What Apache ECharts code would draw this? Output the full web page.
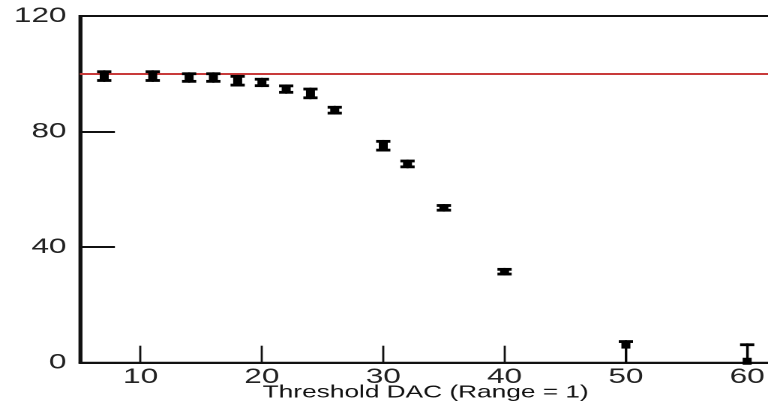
<!DOCTYPE html>
<html>
<head>
<meta charset="utf-8">
<script src="https://cdn.jsdelivr.net/npm/echarts@6/dist/echarts.min.js"></script>
<style>
html,body{margin:0;padding:0;background:#fff;overflow:hidden;width:768px;height:407px;}
#c{width:520px;height:407px;transform:scaleX(1.5);transform-origin:0 0;}
</style>
</head>
<body>
<div id="c"></div>
<script>
// Data
const thresholdDAC = [7, 11, 14, 16, 18, 20, 22, 24, 26, 30, 32, 35, 40, 50, 60];
const efficiency   = [99.2, 99.2, 98.7, 98.7, 97.6, 97.0, 94.7, 93.2, 87.4, 75.1, 68.8, 53.6, 31.5, 6.1, 0.5];
const errLow       = [2, 2, 1.8, 1.8, 2, 1.6, 1.6, 2, 1.5, 2, 1.5, 1.3, 1.3, 6.1, 0.5];
const errHigh      = [2, 2, 1.8, 1.8, 2, 1.6, 1.6, 2, 1.5, 2, 1.5, 1.3, 1.3, 1.7, 6.2];
const xTickValues  = [10, 20, 30, 40, 50, 60];
const yTickValues  = [0, 40, 80, 120];
const referenceLevel = 100;
const xAxisTitle = 'Threshold DAC (Range = 1)';

const data = thresholdDAC.map((x, i) => [x, efficiency[i], efficiency[i] - errLow[i], efficiency[i] + errHigh[i]]);

const chart = echarts.init(document.getElementById('c'), null, {renderer: 'canvas', devicePixelRatio: 2});
const font = 'Liberation Sans, Arial, sans-serif';

chart.setOption({
  animation: false,
  backgroundColor: '#ffffff',
  grid: {left: 53.3, right: 5.7, top: 16, bottom: 44.3, show: true, borderColor: '#111', borderWidth: 2,
         backgroundColor: 'transparent', containLabel: false, outerBoundsMode: 'none'},
  xAxis: {
    type: 'value', min: 5, max: 62,
    axisLine: {show: true, lineStyle: {color: '#111', width: 2}},
    axisTick: {show: true, inside: true, length: 17, lineStyle: {color: '#111', width: 1.4}, customValues: xTickValues},
    axisLabel: {show: true, margin: 4, fontSize: 21, fontFamily: font, color: '#222', customValues: xTickValues},
    splitLine: {show: false},
    name: xAxisTitle, nameLocation: 'middle', nameGap: 30, nameMoveOverlap: false,
    nameTextStyle: {fontSize: 17.5, fontFamily: font, color: '#111', verticalAlign: 'middle', lineHeight: 18, padding: [0, 0, 0, 0]}
  },
  yAxis: {
    type: 'value', min: 0, max: 120, interval: 40,
    axisLine: {show: true, lineStyle: {color: '#111', width: 2}},
    axisTick: {show: true, inside: true, length: 23.3, lineStyle: {color: '#111', width: 2}},
    axisLabel: {show: true, margin: 9, fontSize: 21, fontFamily: font, color: '#222'},
    splitLine: {show: false}
  },
  series: [
    {
      type: 'line', z: 1, silent: true,
      data: [],
      markLine: {
        silent: true, symbol: 'none', label: {show: false},
        lineStyle: {color: '#c83a3a', width: 2, type: 'solid'},
        data: [{yAxis: referenceLevel}]
      }
    },
    {
      type: 'custom', z: 5, clip: false,
      data: data,
      renderItem: function (params, api) {
        const x = api.value(0), y = api.value(1), lo = api.value(2), hi = api.value(3);
        const c = api.coord([x, y]);
        const pt = api.coord([x, hi]);
        const pb = api.coord([x, lo]);
        const capW = 9.5, capH = 2.8, bodyW = 6;
        const span = pb[1] - pt[1];
        const bodyH = Math.min(span, 7);
        const style = {fill: '#000'};
        const children = [
          {type: 'rect', shape: {x: c[0] - 0.7, y: pt[1], width: 1.4, height: span}, style: style},
          {type: 'rect', shape: {x: c[0] - capW / 2, y: pt[1], width: capW, height: capH}, style: style},
          {type: 'rect', shape: {x: c[0] - bodyW / 2, y: c[1] - bodyH / 2, width: bodyW, height: bodyH}, style: style}
        ];
        if (lo > 0) {
          children.push({type: 'rect', shape: {x: c[0] - capW / 2, y: pb[1] - capH, width: capW, height: capH}, style: style});
        }
        return {type: 'group', children: children};
      }
    }
  ]
});
</script>
</body>
</html>
